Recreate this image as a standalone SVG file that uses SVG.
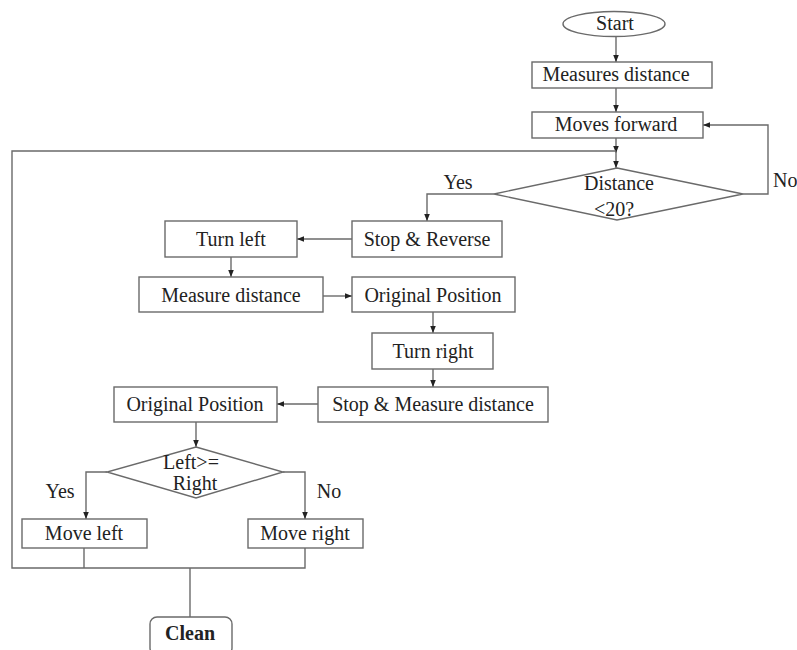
<svg xmlns="http://www.w3.org/2000/svg" width="797" height="650" viewBox="0 0 797 650">
<style>
.box{fill:#fff;stroke:#6a6a6a;stroke-width:1.4}
.t{font-family:"Liberation Serif","Times New Roman",serif;font-size:20px;fill:#222;text-anchor:middle}
.c{fill:none;stroke:#6a6a6a;stroke-width:1.4}
.a{marker-end:url(#ah)}
</style>
<defs>
<marker id="ah" viewBox="0 0 10 10" refX="10" refY="5" markerWidth="7" markerHeight="7" markerUnits="userSpaceOnUse" orient="auto">
<path d="M0,1 L10,5 L0,9 z" fill="#222"/>
</marker>
</defs>
<rect width="797" height="650" fill="#fff"/>
<g id="connectors">
<path class="c a" d="M616,37 V62"/>
<path class="c a" d="M616,88 V112"/>
<path class="c a" d="M616,138 V153"/>
<path class="c a" d="M616,153 V168"/>
<path class="c a" d="M743,194 H768 V125 H703"/>
<path class="c a" d="M494,194 H427 V221"/>
<path class="c a" d="M352,239 H297"/>
<path class="c a" d="M231,257 V277"/>
<path class="c a" d="M323,296 H352"/>
<path class="c a" d="M433,312 V333"/>
<path class="c a" d="M433,369 V387"/>
<path class="c a" d="M318,404 H277"/>
<path class="c a" d="M196,422 V447"/>
<path class="c a" d="M107,472 H86 V519"/>
<path class="c a" d="M283,472 H305 V519"/>
<path class="c" d="M84,548 V568"/>
<path class="c" d="M305,548 V568 H12 V151 H616"/>
<path class="c" d="M190,568 V617"/>
</g>
<g id="start">
<ellipse class="box" cx="614" cy="24" rx="51" ry="12.5"/>
<text class="t" x="615" y="30">Start</text>
</g>
<g id="measures-distance">
<rect class="box" x="532" y="62" width="180" height="26"/>
<text class="t" x="616" y="81">Measures distance</text>
</g>
<g id="moves-forward">
<rect class="box" x="532" y="112" width="171" height="26"/>
<text class="t" x="616" y="131">Moves forward</text>
</g>
<g id="distance-check">
<polygon class="box" points="617,168 743,194 617,220 494,194"/>
<text class="t" x="619" y="190">Distance</text>
<text class="t" x="614" y="216">&lt;20?</text>
</g>
<g id="labels">
<text class="t" x="458" y="189">Yes</text>
<text class="t" x="773" y="187" style="text-anchor:start">No</text>
<text class="t" x="60" y="498">Yes</text>
<text class="t" x="329" y="498">No</text>
</g>
<g id="stop-reverse">
<rect class="box" x="352" y="221" width="150" height="36"/>
<text class="t" x="427" y="246">Stop &amp; Reverse</text>
</g>
<g id="turn-left">
<rect class="box" x="165" y="221" width="132" height="36"/>
<text class="t" x="231" y="246">Turn left</text>
</g>
<g id="measure-distance">
<rect class="box" x="139" y="277" width="184" height="35"/>
<text class="t" x="231" y="302">Measure distance</text>
</g>
<g id="original-position-1">
<rect class="box" x="352" y="277" width="163" height="35"/>
<text class="t" x="433" y="302">Original Position</text>
</g>
<g id="turn-right">
<rect class="box" x="372" y="333" width="121" height="36"/>
<text class="t" x="433" y="358">Turn right</text>
</g>
<g id="stop-measure">
<rect class="box" x="318" y="387" width="230" height="35"/>
<text class="t" x="433" y="411">Stop &amp; Measure distance</text>
</g>
<g id="original-position-2">
<rect class="box" x="114" y="387" width="163" height="35"/>
<text class="t" x="195" y="411">Original Position</text>
</g>
<g id="left-right-check">
<polygon class="box" points="196,447 283,472 196,498 107,472"/>
<text class="t" x="191" y="469">Left&gt;=</text>
<text class="t" x="195" y="490">Right</text>
</g>
<g id="move-left">
<rect class="box" x="22" y="519" width="125" height="29"/>
<text class="t" x="84" y="540">Move left</text>
</g>
<g id="move-right">
<rect class="box" x="248" y="519" width="115" height="29"/>
<text class="t" x="305" y="540">Move right</text>
</g>
<g id="clean">
<rect class="box" x="150" y="617" width="82" height="38" rx="7"/>
<text class="t" x="190" y="640" style="font-weight:bold">Clean</text>
</g>
</svg>
